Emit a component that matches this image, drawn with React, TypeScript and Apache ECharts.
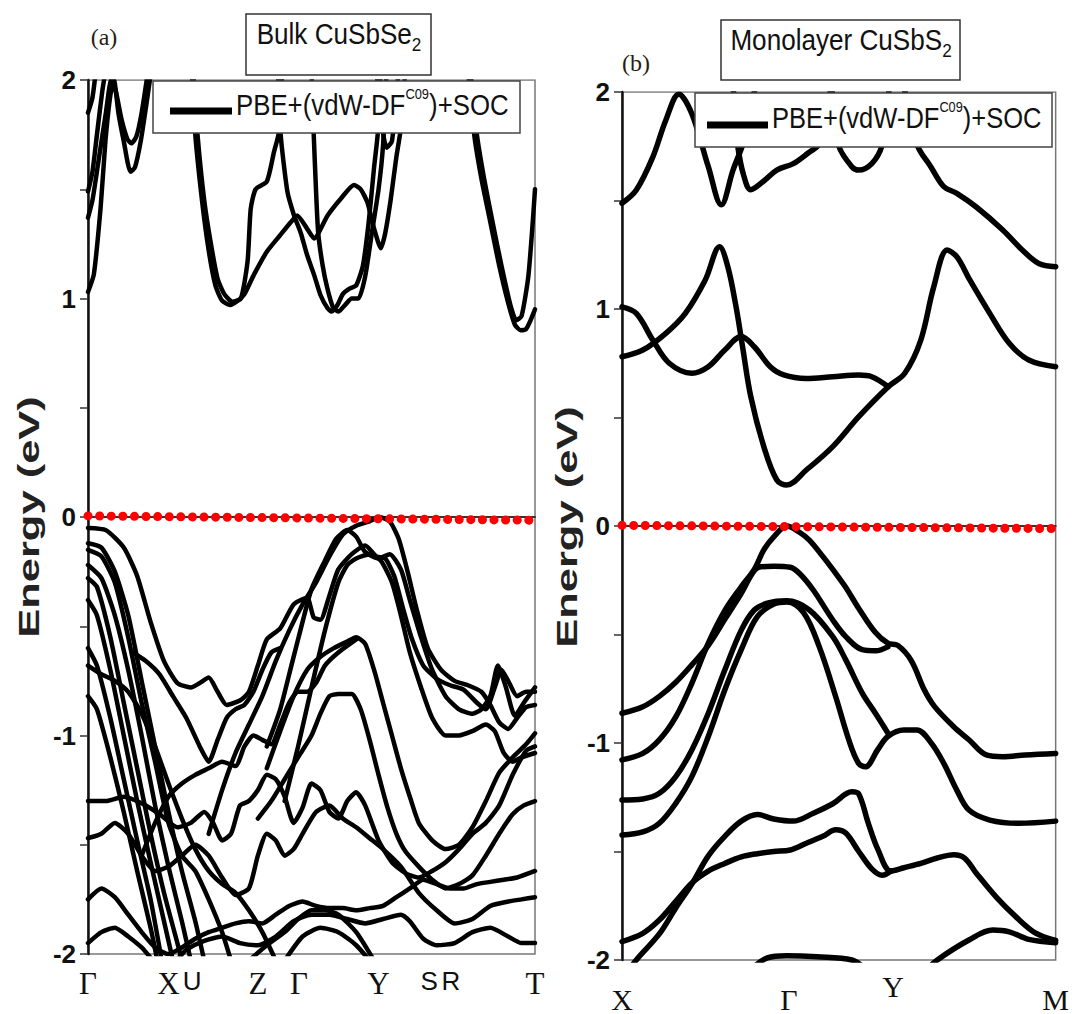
import React, { useEffect, useRef } from 'react';
import * as echarts from 'echarts';

// ---------- k-path tick labels ----------
const bulkKLabels = ['Γ', 'X', 'U', 'Z', 'Γ', 'Y', 'S', 'R', 'T'];
const bulkKPos = [0, 0.18, 0.233, 0.38, 0.472, 0.65, 0.763, 0.812, 1];
const bulkKSans = [false, false, true, false, false, false, true, true, false];
const monoKLabels = ['X', 'Γ', 'Y', 'M'];
const monoKPos = [0, 0.385, 0.625, 1];
const monoKRaised = [false, false, true, false];

// ---------- Fermi level (dotted red) ----------
const bulkFermi = [[0, 0.005], [1, -0.015]];
const monoFermi = [[0, 0.003], [1, -0.012]];

// ---------- (a) Bulk CuSbSe2 : conduction bands ----------
const bulkConduction: number[][][] = [
  [[0, 1.03], [0.013, 1.11], [0.028, 1.41], [0.039, 1.72], [0.05, 1.93], [0.058, 2.0], [0.068, 1.85], [0.08, 1.72], [0.095, 1.58], [0.105, 1.6], [0.118, 1.72], [0.13, 1.88], [0.142, 2.05]],
  [[0, 1.37], [0.01, 1.45], [0.025, 1.65], [0.04, 1.85], [0.052, 2.0], [0.062, 1.95], [0.075, 1.82], [0.088, 1.73], [0.097, 1.71], [0.108, 1.74], [0.12, 1.85], [0.135, 2.05]],
  [[0, 1.49], [0.01, 1.58], [0.02, 1.75], [0.032, 1.95], [0.04, 2.05]],
  [[0, 1.85], [0.01, 1.92], [0.018, 2.05]],
  [[0.235, 2.05], [0.245, 1.75], [0.26, 1.45], [0.275, 1.25], [0.29, 1.09], [0.305, 1.02], [0.323, 0.985], [0.342, 1.0], [0.357, 1.17], [0.364, 1.41], [0.375, 1.5], [0.4, 1.535], [0.416, 1.67], [0.427, 1.76], [0.435, 2.05]],
  [[0.232, 2.05], [0.24, 1.75], [0.255, 1.45], [0.27, 1.22], [0.285, 1.06], [0.3, 0.99], [0.318, 0.97], [0.335, 0.99], [0.35, 1.02], [0.371, 1.108], [0.4, 1.214], [0.43, 1.29], [0.454, 1.35], [0.468, 1.38], [0.49, 1.32], [0.506, 1.275], [0.536, 1.38], [0.566, 1.458], [0.595, 1.52], [0.61, 1.5], [0.625, 1.44], [0.64, 1.32], [0.655, 1.23], [0.665, 1.3], [0.677, 1.45], [0.69, 1.65], [0.7, 1.78], [0.71, 2.05]],
  [[0.425, 2.05], [0.431, 1.75], [0.446, 1.49], [0.461, 1.38], [0.476, 1.3], [0.49, 1.2], [0.506, 1.107], [0.52, 1.016], [0.536, 0.955], [0.545, 0.94], [0.558, 0.97], [0.57, 1.02], [0.585, 1.045], [0.6, 1.06], [0.615, 1.15], [0.628, 1.35], [0.64, 1.6], [0.648, 1.75], [0.655, 2.05]],
  [[0.5, 2.05], [0.505, 1.75], [0.51, 1.5], [0.515, 1.3], [0.525, 1.15], [0.535, 1.05], [0.548, 0.96], [0.56, 0.94], [0.575, 0.97], [0.59, 1.0], [0.605, 1.0], [0.62, 1.1], [0.635, 1.3], [0.65, 1.5], [0.66, 1.7], [0.668, 2.05]],
  [[0.645, 2.05], [0.657, 1.8], [0.668, 1.69], [0.68, 1.72], [0.695, 2.05]],
  [[0.85, 2.05], [0.864, 1.75], [0.88, 1.55], [0.9, 1.35], [0.92, 1.15], [0.94, 0.98], [0.955, 0.88], [0.968, 0.855], [0.98, 0.86], [0.99, 0.9], [1, 0.95]],
  [[0.855, 2.05], [0.87, 1.75], [0.886, 1.55], [0.905, 1.35], [0.925, 1.15], [0.945, 0.97], [0.958, 0.9], [0.97, 0.92], [0.985, 1.1], [0.995, 1.35], [1, 1.5]],
];

// ---------- (a) Bulk CuSbSe2 : valence bands ----------
const bulkValence: number[][][] = [
  [[0, -0.05], [0.04, -0.06], [0.08, -0.14], [0.11, -0.27], [0.14, -0.48], [0.17, -0.66], [0.2, -0.76], [0.23, -0.78], [0.25, -0.76], [0.27, -0.735], [0.29, -0.8], [0.31, -0.86], [0.34, -0.84], [0.36, -0.8], [0.38, -0.68], [0.4, -0.56], [0.43, -0.51], [0.46, -0.4], [0.49, -0.37], [0.505, -0.46], [0.52, -0.47], [0.54, -0.36], [0.56, -0.24], [0.59, -0.17], [0.62, -0.13], [0.645, -0.18], [0.665, -0.19], [0.685, -0.27], [0.705, -0.42], [0.725, -0.56], [0.75, -0.68], [0.78, -0.74], [0.81, -0.77], [0.84, -0.79], [0.87, -0.85], [0.89, -0.88], [0.91, -0.78], [0.925, -0.7], [0.94, -0.75], [0.96, -0.82], [0.98, -0.8], [1, -0.8]],
  [[0.27, -1.45], [0.3, -1.25], [0.33, -1.08], [0.36, -0.95], [0.39, -0.82], [0.42, -0.66], [0.45, -0.52], [0.48, -0.4], [0.51, -0.3], [0.54, -0.18], [0.57, -0.08], [0.6, -0.04], [0.63, -0.02], [0.652, 0], [0.675, -0.02], [0.695, -0.1], [0.715, -0.25], [0.735, -0.42], [0.76, -0.6], [0.79, -0.7], [0.82, -0.75], [0.85, -0.77], [0.88, -0.8], [0.9, -0.86], [0.92, -0.94], [0.94, -0.97], [0.96, -0.92], [0.98, -0.87], [1, -0.86]],
  [[0.4, -1.05], [0.43, -0.88], [0.455, -0.68], [0.48, -0.48], [0.5, -0.33], [0.53, -0.2], [0.555, -0.1], [0.58, -0.06], [0.6, -0.09], [0.62, -0.16], [0.65, -0.19], [0.675, -0.17], [0.7, -0.24], [0.72, -0.38], [0.745, -0.55], [0.77, -0.7], [0.8, -0.82], [0.83, -0.88], [0.86, -0.9], [0.88, -0.88], [0.9, -0.82], [0.917, -0.68], [0.935, -0.78], [0.955, -0.91], [0.975, -0.85], [1, -0.78]],
  [[0.44, -1.3], [0.47, -1.05], [0.5, -0.78], [0.53, -0.52], [0.56, -0.3], [0.58, -0.22], [0.6, -0.19], [0.63, -0.17], [0.655, -0.2], [0.68, -0.3], [0.7, -0.45], [0.72, -0.62], [0.745, -0.78], [0.77, -0.92], [0.8, -1.0], [0.83, -1.0], [0.86, -0.98], [0.89, -0.95], [0.91, -0.98], [0.93, -1.08], [0.95, -1.12], [0.97, -1.1], [1, -1.08]],
  [[0.4, -1.15], [0.43, -0.98], [0.46, -0.82], [0.49, -0.7], [0.52, -0.64], [0.55, -0.6], [0.58, -0.57], [0.6, -0.55], [0.62, -0.58], [0.64, -0.7], [0.66, -0.85], [0.68, -1.0], [0.7, -1.15], [0.72, -1.28], [0.74, -1.4], [0.77, -1.48], [0.8, -1.52], [0.83, -1.5], [0.86, -1.42], [0.89, -1.3], [0.92, -1.17], [0.95, -1.1], [0.98, -1.04], [1, -0.99]],
  [[0.38, -1.38], [0.41, -1.3], [0.44, -1.2], [0.47, -1.1], [0.5, -1.0], [0.52, -0.9], [0.54, -0.82], [0.56, -0.81], [0.59, -0.81], [0.61, -0.88], [0.63, -1.02], [0.65, -1.18], [0.67, -1.33], [0.69, -1.45], [0.71, -1.53], [0.74, -1.6], [0.77, -1.66], [0.8, -1.7], [0.83, -1.68], [0.86, -1.64], [0.89, -1.55], [0.92, -1.45], [0.95, -1.36], [0.975, -1.32], [1, -1.3]],
  [[0.12, -1.55], [0.15, -1.4], [0.18, -1.28], [0.21, -1.22], [0.24, -1.18], [0.27, -1.15], [0.3, -1.12], [0.33, -1.14], [0.35, -1.05], [0.37, -1.0], [0.39, -1.02], [0.41, -1.04], [0.43, -0.95], [0.45, -0.85], [0.47, -0.8], [0.49, -0.8], [0.51, -0.76], [0.53, -0.68], [0.56, -0.62], [0.6, -0.56]],
  [[0, -1.3], [0.04, -1.3], [0.08, -1.28], [0.12, -1.31], [0.16, -1.36], [0.2, -1.42], [0.23, -1.4], [0.26, -1.35], [0.28, -1.4], [0.3, -1.48], [0.32, -1.45], [0.34, -1.32], [0.36, -1.3], [0.38, -1.25], [0.4, -1.18], [0.42, -1.2], [0.44, -1.28], [0.46, -1.4], [0.48, -1.33], [0.5, -1.22], [0.52, -1.25], [0.54, -1.35], [0.56, -1.38], [0.58, -1.3], [0.6, -1.26], [0.62, -1.32], [0.65, -1.48], [0.68, -1.58], [0.71, -1.63], [0.74, -1.65], [0.77, -1.62], [0.8, -1.58], [0.83, -1.52], [0.86, -1.45], [0.89, -1.4], [0.92, -1.32], [0.95, -1.18], [0.98, -1.07], [1, -1.05]],
  [[0, -1.47], [0.03, -1.45], [0.06, -1.4], [0.09, -1.45], [0.12, -1.55], [0.15, -1.62], [0.18, -1.6], [0.21, -1.55], [0.24, -1.5], [0.27, -1.55], [0.3, -1.65], [0.33, -1.73], [0.36, -1.7], [0.38, -1.55], [0.4, -1.45], [0.42, -1.48], [0.44, -1.55], [0.46, -1.52], [0.48, -1.45], [0.51, -1.35], [0.54, -1.32], [0.57, -1.38], [0.6, -1.42], [0.63, -1.47], [0.66, -1.52], [0.7, -1.6], [0.74, -1.72], [0.78, -1.8], [0.82, -1.86], [0.86, -1.84], [0.9, -1.78], [0.94, -1.76], [0.97, -1.75], [1, -1.74]],
  [[0, -1.75], [0.03, -1.7], [0.06, -1.74], [0.09, -1.82], [0.12, -1.9], [0.15, -1.97], [0.18, -2.0], [0.21, -1.97], [0.24, -1.93], [0.27, -1.9], [0.3, -1.88], [0.33, -1.86], [0.36, -1.85], [0.39, -1.86], [0.42, -1.82], [0.45, -1.78], [0.48, -1.76], [0.51, -1.78], [0.54, -1.79], [0.57, -1.79], [0.6, -1.8], [0.63, -1.79], [0.66, -1.78], [0.69, -1.74], [0.72, -1.7], [0.75, -1.66], [0.78, -1.68], [0.81, -1.7], [0.84, -1.7], [0.87, -1.68], [0.9, -1.67], [0.93, -1.66], [0.96, -1.65], [1, -1.62]],
  [[0, -1.95], [0.03, -1.9], [0.06, -1.88], [0.09, -1.92], [0.12, -1.97], [0.15, -2.03], [0.2, -2.02], [0.22, -1.98], [0.26, -1.94], [0.3, -1.92], [0.34, -1.95], [0.38, -1.96], [0.42, -1.92], [0.46, -1.85], [0.5, -1.82], [0.54, -1.82], [0.58, -1.84], [0.62, -1.86], [0.66, -1.84], [0.7, -1.82], [0.72, -1.85], [0.75, -1.93], [0.78, -1.96], [0.82, -1.95], [0.86, -1.9], [0.9, -1.88], [0.94, -1.92], [0.97, -1.95], [1, -1.95]],
  [[0.44, -2.03], [0.48, -1.92], [0.52, -1.88], [0.56, -1.9], [0.6, -1.96], [0.63, -2.03]],
  [[0.36, -2.03], [0.4, -1.96], [0.44, -1.9], [0.47, -1.84], [0.5, -1.8], [0.53, -1.8], [0.56, -1.82], [0.6, -1.9], [0.64, -2.03]],
  [[0.1, -0.62], [0.13, -0.66], [0.16, -0.72], [0.19, -0.82], [0.22, -0.92], [0.25, -1.05], [0.27, -1.12], [0.29, -1.02], [0.31, -0.92], [0.33, -0.88], [0.35, -0.86], [0.37, -0.8], [0.39, -0.7], [0.41, -0.62], [0.43, -0.6]],
  [[0, -0.12], [0.03, -0.14], [0.06, -0.25], [0.09, -0.45], [0.12, -0.75], [0.15, -1.05], [0.18, -1.35], [0.21, -1.62], [0.24, -1.85], [0.26, -2.03]],
  [[0, -0.22], [0.03, -0.28], [0.06, -0.45], [0.09, -0.7], [0.12, -1.0], [0.15, -1.32], [0.18, -1.6], [0.21, -1.85], [0.23, -2.03]],
  [[0, -0.28], [0.02, -0.32], [0.05, -0.55], [0.08, -0.85], [0.11, -1.15], [0.14, -1.45], [0.17, -1.72], [0.2, -1.95], [0.21, -2.03]],
  [[0, -0.38], [0.02, -0.45], [0.05, -0.7], [0.08, -1.0], [0.11, -1.3], [0.14, -1.58], [0.17, -1.85], [0.19, -2.03]],
  [[0, -0.6], [0.02, -0.68], [0.05, -0.92], [0.08, -1.2], [0.11, -1.48], [0.14, -1.75], [0.165, -2.03]],
  [[0, -0.68], [0.03, -0.72], [0.06, -0.75], [0.09, -0.8], [0.12, -0.9], [0.15, -1.05], [0.18, -1.22], [0.21, -1.38], [0.24, -1.52], [0.27, -1.62], [0.3, -1.68], [0.33, -1.72], [0.36, -1.8], [0.39, -1.9], [0.42, -2.03]],
  [[0, -0.82], [0.02, -0.88], [0.05, -1.1], [0.08, -1.35], [0.11, -1.62], [0.14, -1.88], [0.155, -2.03]],
  [[0, -0.15], [0.03, -0.18], [0.06, -0.3], [0.09, -0.55], [0.12, -0.85], [0.15, -1.12], [0.18, -1.4], [0.21, -1.55], [0.24, -1.62], [0.27, -1.75], [0.3, -1.9], [0.32, -2.03]],
];

// ---------- (b) Monolayer CuSbS2 : conduction bands ----------
const monoConduction: number[][][] = [
  [[0, 1.487], [0.033, 1.548], [0.071, 1.7], [0.101, 1.87], [0.131, 1.99], [0.161, 1.9], [0.199, 1.656], [0.229, 1.48], [0.256, 1.64], [0.282, 1.78], [0.3, 1.95], [0.315, 2.1]],
  [[0.255, 2.1], [0.26, 1.9], [0.267, 1.75], [0.28, 1.62], [0.297, 1.55], [0.327, 1.59], [0.357, 1.64], [0.395, 1.67], [0.43, 1.72], [0.455, 1.76], [0.47, 1.85], [0.485, 2.1]],
  [[0.48, 2.1], [0.49, 1.9], [0.5, 1.75], [0.53, 1.656], [0.546, 1.64], [0.576, 1.67], [0.599, 1.75], [0.61, 1.9], [0.62, 2.1]],
  [[0.64, 2.1], [0.665, 1.9], [0.682, 1.75], [0.712, 1.656], [0.742, 1.564], [0.772, 1.533], [0.817, 1.47], [0.878, 1.364], [0.923, 1.272], [0.961, 1.21], [1, 1.195]],
  [[0, 0.78], [0.048, 0.811], [0.101, 0.888], [0.146, 0.98], [0.192, 1.134], [0.225, 1.287], [0.244, 1.195], [0.263, 1.01], [0.278, 0.826], [0.297, 0.596], [0.327, 0.366], [0.357, 0.212], [0.38, 0.189], [0.425, 0.258], [0.486, 0.366], [0.546, 0.504], [0.614, 0.642], [0.652, 0.704], [0.689, 0.857], [0.719, 1.103], [0.75, 1.272], [0.772, 1.241], [0.802, 1.134], [0.848, 0.98], [0.893, 0.842], [0.938, 0.765], [1, 0.734]],
  [[0, 1.01], [0.033, 0.98], [0.071, 0.857], [0.109, 0.75], [0.161, 0.704], [0.199, 0.734], [0.237, 0.811], [0.275, 0.873], [0.305, 0.826], [0.342, 0.734], [0.373, 0.696], [0.425, 0.68], [0.486, 0.688], [0.546, 0.696], [0.576, 0.688], [0.614, 0.642]],
];

// ---------- (b) Monolayer CuSbS2 : valence bands ----------
const monoValence: number[][][] = [
  [[0, -1.078], [0.048, -1.048], [0.086, -0.986], [0.124, -0.88], [0.161, -0.725], [0.199, -0.54], [0.237, -0.39], [0.275, -0.28], [0.305, -0.2], [0.327, -0.11], [0.35, -0.05], [0.38, 0], [0.41, -0.03], [0.432, -0.065], [0.463, -0.14], [0.486, -0.2], [0.515, -0.28], [0.546, -0.38], [0.584, -0.49], [0.613, -0.54], [0.636, -0.55], [0.667, -0.62], [0.697, -0.755], [0.72, -0.83], [0.765, -0.925], [0.8, -0.985], [0.84, -1.055], [0.878, -1.063], [0.93, -1.055], [1, -1.048]],
  [[0, -0.863], [0.048, -0.833], [0.086, -0.785], [0.124, -0.72], [0.161, -0.64], [0.199, -0.55], [0.237, -0.43], [0.275, -0.31], [0.3, -0.22], [0.315, -0.19], [0.35, -0.185], [0.388, -0.19], [0.41, -0.22], [0.441, -0.295], [0.486, -0.433], [0.516, -0.51], [0.554, -0.57], [0.585, -0.575], [0.613, -0.557]],
  [[0, -1.263], [0.048, -1.258], [0.086, -1.232], [0.124, -1.155], [0.161, -1.032], [0.199, -0.863], [0.237, -0.664], [0.275, -0.48], [0.305, -0.387], [0.335, -0.356], [0.38, -0.345], [0.432, -0.387], [0.486, -0.51], [0.516, -0.617], [0.554, -0.77], [0.584, -0.862], [0.613, -0.954]],
  [[0, -1.424], [0.048, -1.41], [0.086, -1.37], [0.124, -1.278], [0.161, -1.155], [0.199, -0.97], [0.237, -0.756], [0.275, -0.57], [0.312, -0.418], [0.35, -0.36], [0.38, -0.35], [0.419, -0.4], [0.455, -0.557], [0.493, -0.788], [0.523, -0.986], [0.545, -1.092], [0.561, -1.11], [0.59, -1.03], [0.613, -0.97], [0.65, -0.94], [0.68, -0.94], [0.713, -1.0], [0.742, -1.094], [0.772, -1.217], [0.8, -1.309], [0.848, -1.355], [0.915, -1.37], [1, -1.36]],
  [[0, -1.915], [0.048, -1.877], [0.086, -1.816], [0.124, -1.73], [0.161, -1.645], [0.199, -1.59], [0.237, -1.555], [0.275, -1.525], [0.312, -1.51], [0.35, -1.5], [0.388, -1.493], [0.425, -1.462], [0.463, -1.43], [0.493, -1.4], [0.516, -1.415], [0.546, -1.5], [0.576, -1.58], [0.6, -1.61], [0.62, -1.59]],
  [[0, -2.09], [0.033, -2.0], [0.086, -1.88], [0.124, -1.76], [0.161, -1.65], [0.199, -1.52], [0.237, -1.43], [0.275, -1.36], [0.312, -1.33], [0.35, -1.35], [0.395, -1.36], [0.44, -1.325], [0.486, -1.28], [0.53, -1.225], [0.546, -1.235], [0.568, -1.37], [0.59, -1.49], [0.62, -1.59], [0.65, -1.575], [0.689, -1.555], [0.727, -1.53], [0.765, -1.515], [0.79, -1.53], [0.817, -1.6], [0.863, -1.71], [0.908, -1.8], [0.953, -1.875], [1, -1.91]],
  [[0.3, -2.04], [0.335, -1.99], [0.38, -1.98], [0.45, -1.985], [0.53, -2.0], [0.56, -2.04]],
  [[0.7, -2.05], [0.727, -2.0], [0.8, -1.908], [0.855, -1.862], [0.893, -1.87], [0.938, -1.905], [1, -1.92]],
];

const SANS = '"Liberation Sans", Arial, sans-serif';
const SERIF = '"Liberation Serif", "Times New Roman", serif';

function idxOf(list: number[], v: number) {
  return list.findIndex((p) => Math.abs(p - v) < 1e-6);
}

export default function App() {
  const ref = useRef<HTMLDivElement>(null);

  useEffect(() => {
    if (!ref.current) return;
    const chart = echarts.init(ref.current, undefined, { renderer: 'svg' });

    const bandSeries = (bands: number[][][], axis: number, width: number, smooth: number) =>
      bands.map((b) => ({
        type: 'line',
        xAxisIndex: axis,
        yAxisIndex: axis,
        data: b,
        symbol: 'none',
        showSymbol: false,
        smooth,
        silent: true,
        clip: true,
        z: 3,
        lineStyle: { color: '#000', width, cap: 'round', join: 'round' },
      }));

    const fermiSeries = (data: number[][], axis: number) => ({
      type: 'line',
      xAxisIndex: axis,
      yAxisIndex: axis,
      data,
      symbol: 'none',
      silent: true,
      z: 6,
      lineStyle: { color: '#ff0000', width: 9, type: [0.1, 11.5], cap: 'round' },
    });

    const yAxisCommon = (idx: number) => ({
      type: 'value',
      gridIndex: idx,
      min: -2,
      max: 2,
      interval: 0.5,
      splitLine: { show: false },
      axisLine: { show: true, lineStyle: { color: '#111', width: 2.5 } },
      axisTick: { show: true, length: 8, lineStyle: { color: '#333', width: 1.5 } },
      axisLabel: {
        margin: 12,
        color: '#111',
        fontFamily: '"Liberation Sans Narrow", "Arial Narrow", "Liberation Sans", Arial, sans-serif',
        fontWeight: 'bold',
        fontSize: 26,
        formatter: (v: number) => (Number.isInteger(v) ? String(v) : ''),
      },
    });

    const legendText = {
      text: '{a|PBE+(vdW-DF}{p|C09}{a|)+SOC}', align: 'left', verticalAlign: 'top',
      rich: {
        a: { fontFamily: SANS, fontSize: 30, fill: '#111', lineHeight: 34, verticalAlign: 'bottom', padding: [8, 0, 0, 0] },
        p: { fontFamily: SANS, fontSize: 15, fill: '#111', lineHeight: 18, verticalAlign: 'top' },
      },
    };
    const titleRich = {
      a: { fontFamily: SANS, fontSize: 29, fill: '#111', lineHeight: 34, verticalAlign: 'top', padding: [0, 0, 14, 0] },
      s: { fontFamily: SANS, fontSize: 19, fill: '#111', lineHeight: 22, verticalAlign: 'bottom' },
    };

    const option: any = {
      animation: false,
      backgroundColor: '#ffffff',
      grid: [
        { left: 88, top: 80, width: 447, height: 874, show: true, borderColor: '#777', borderWidth: 1.5 },
        { left: 622, top: 92, width: 442, height: 868, show: true, borderColor: '#777', borderWidth: 1.5 },
      ],
      xAxis: [
        {
          type: 'value',
          gridIndex: 0,
          min: 0,
          max: 1,
          splitLine: { show: false },
          axisTick: { show: false },
          axisLine: { show: true, lineStyle: { color: '#333', width: 2 } },
          axisLabel: {
            customValues: bulkKPos,
            margin: 14,
            hideOverlap: false,
            formatter: (v: number) => {
              const i = idxOf(bulkKPos, v);
              if (i < 0) return '';
              return bulkKSans[i] ? `{s|${bulkKLabels[i]}}` : `{r|${bulkKLabels[i]}}`;
            },
            rich: {
              r: { fontFamily: SERIF, fontSize: 31, color: '#111' },
              s: { fontFamily: SANS, fontSize: 26, color: '#111' },
            },
          },
        },
        {
          type: 'value',
          gridIndex: 1,
          min: 0,
          max: 1,
          splitLine: { show: false },
          axisTick: { show: false },
          axisLine: { show: true, lineStyle: { color: '#333', width: 2 } },
          axisLabel: {
            customValues: monoKPos,
            margin: 11,
            hideOverlap: false,
            formatter: (v: number) => {
              const i = idxOf(monoKPos, v);
              if (i < 0) return '';
              return monoKRaised[i] ? `{hi|${monoKLabels[i]}}` : `{lo|${monoKLabels[i]}}`;
            },
            rich: {
              hi: { fontFamily: SERIF, fontSize: 30, color: '#111' },
              lo: { fontFamily: SERIF, fontSize: 30, color: '#111', padding: [13, 0, 0, 0] },
            },
          },
        },
      ],
      yAxis: [yAxisCommon(0), yAxisCommon(1)],
      series: [
        ...bandSeries(bulkConduction, 0, 4.5, 0.2),
        ...bandSeries(bulkValence, 0, 4.5, 0.2),
        ...bandSeries(monoConduction, 1, 5.5, 0.35),
        ...bandSeries(monoValence, 1, 5.5, 0.35),
        fermiSeries(bulkFermi, 0),
        fermiSeries(monoFermi, 1),
      ],
      graphic: [
        // white strips hiding line overdraw above each panel's frame
        { type: 'rect', z: 40, shape: { x: 89, y: 60, width: 447, height: 19.2 }, style: { fill: '#fff' } },
        { type: 'rect', z: 40, shape: { x: 623, y: 80, width: 442, height: 11.2 }, style: { fill: '#fff' } },
        // panel tags
        { type: 'text', x: 104, y: 37, z: 50, style: { text: '(a)', font: `24px ${SERIF}`, fill: '#2a1d12', align: 'center', verticalAlign: 'middle' } },
        { type: 'text', x: 636, y: 63, z: 50, style: { text: '(b)', font: `24px ${SERIF}`, fill: '#2a1d12', align: 'center', verticalAlign: 'middle' } },
        // title boxes
        { type: 'rect', z: 50, shape: { x: 246, y: 14, width: 185, height: 61 }, style: { fill: '#fff', stroke: '#333', lineWidth: 1.5 } },
        {
          type: 'text', x: 339, y: 20, z: 51, scaleX: 0.9,
          style: { text: '{a|Bulk CuSbSe}{s|2}', align: 'center', verticalAlign: 'top', rich: titleRich },
        },
        { type: 'rect', z: 50, shape: { x: 721, y: 20, width: 239, height: 60 }, style: { fill: '#fff', stroke: '#333', lineWidth: 1.5 } },
        {
          type: 'text', x: 841, y: 26, z: 51, scaleX: 0.9,
          style: { text: '{a|Monolayer CuSbS}{s|2}', align: 'center', verticalAlign: 'top', rich: titleRich },
        },
        // legend (a)
        { type: 'rect', z: 50, shape: { x: 153, y: 81, width: 367, height: 52 }, style: { fill: '#fff', stroke: '#444', lineWidth: 1.5 } },
        { type: 'line', z: 51, shape: { x1: 170, y1: 111, x2: 232, y2: 111 }, style: { stroke: '#000', lineWidth: 7 } },
        { type: 'text', x: 236, y: 86, z: 51, scaleX: 0.86, style: legendText },
        // legend (b)
        { type: 'rect', z: 50, shape: { x: 695, y: 93, width: 357, height: 54 }, style: { fill: '#fff', stroke: '#444', lineWidth: 1.5 } },
        { type: 'line', z: 51, shape: { x1: 707, y1: 125, x2: 768, y2: 125 }, style: { stroke: '#000', lineWidth: 7 } },
        { type: 'text', x: 772, y: 99, z: 51, scaleX: 0.85, style: legendText },
        // axis titles
        { type: 'text', x: 29, y: 517, z: 50, rotation: Math.PI / 2, scaleX: 1.5, style: { text: 'Energy (eV)', font: `bold 29px ${SANS}`, fill: '#222', align: 'center', verticalAlign: 'middle' } },
        { type: 'text', x: 567, y: 527, z: 50, rotation: Math.PI / 2, scaleX: 1.5, style: { text: 'Energy (eV)', font: `bold 29px ${SANS}`, fill: '#222', align: 'center', verticalAlign: 'middle' } },
      ],
    };

    chart.setOption(option);
    return () => chart.dispose();
  }, []);

  return (
    <div
      ref={ref}
      style={{ position: 'fixed', left: 0, top: 0, width: 1072, height: 1014, background: '#fff' }}
    />
  );
}
